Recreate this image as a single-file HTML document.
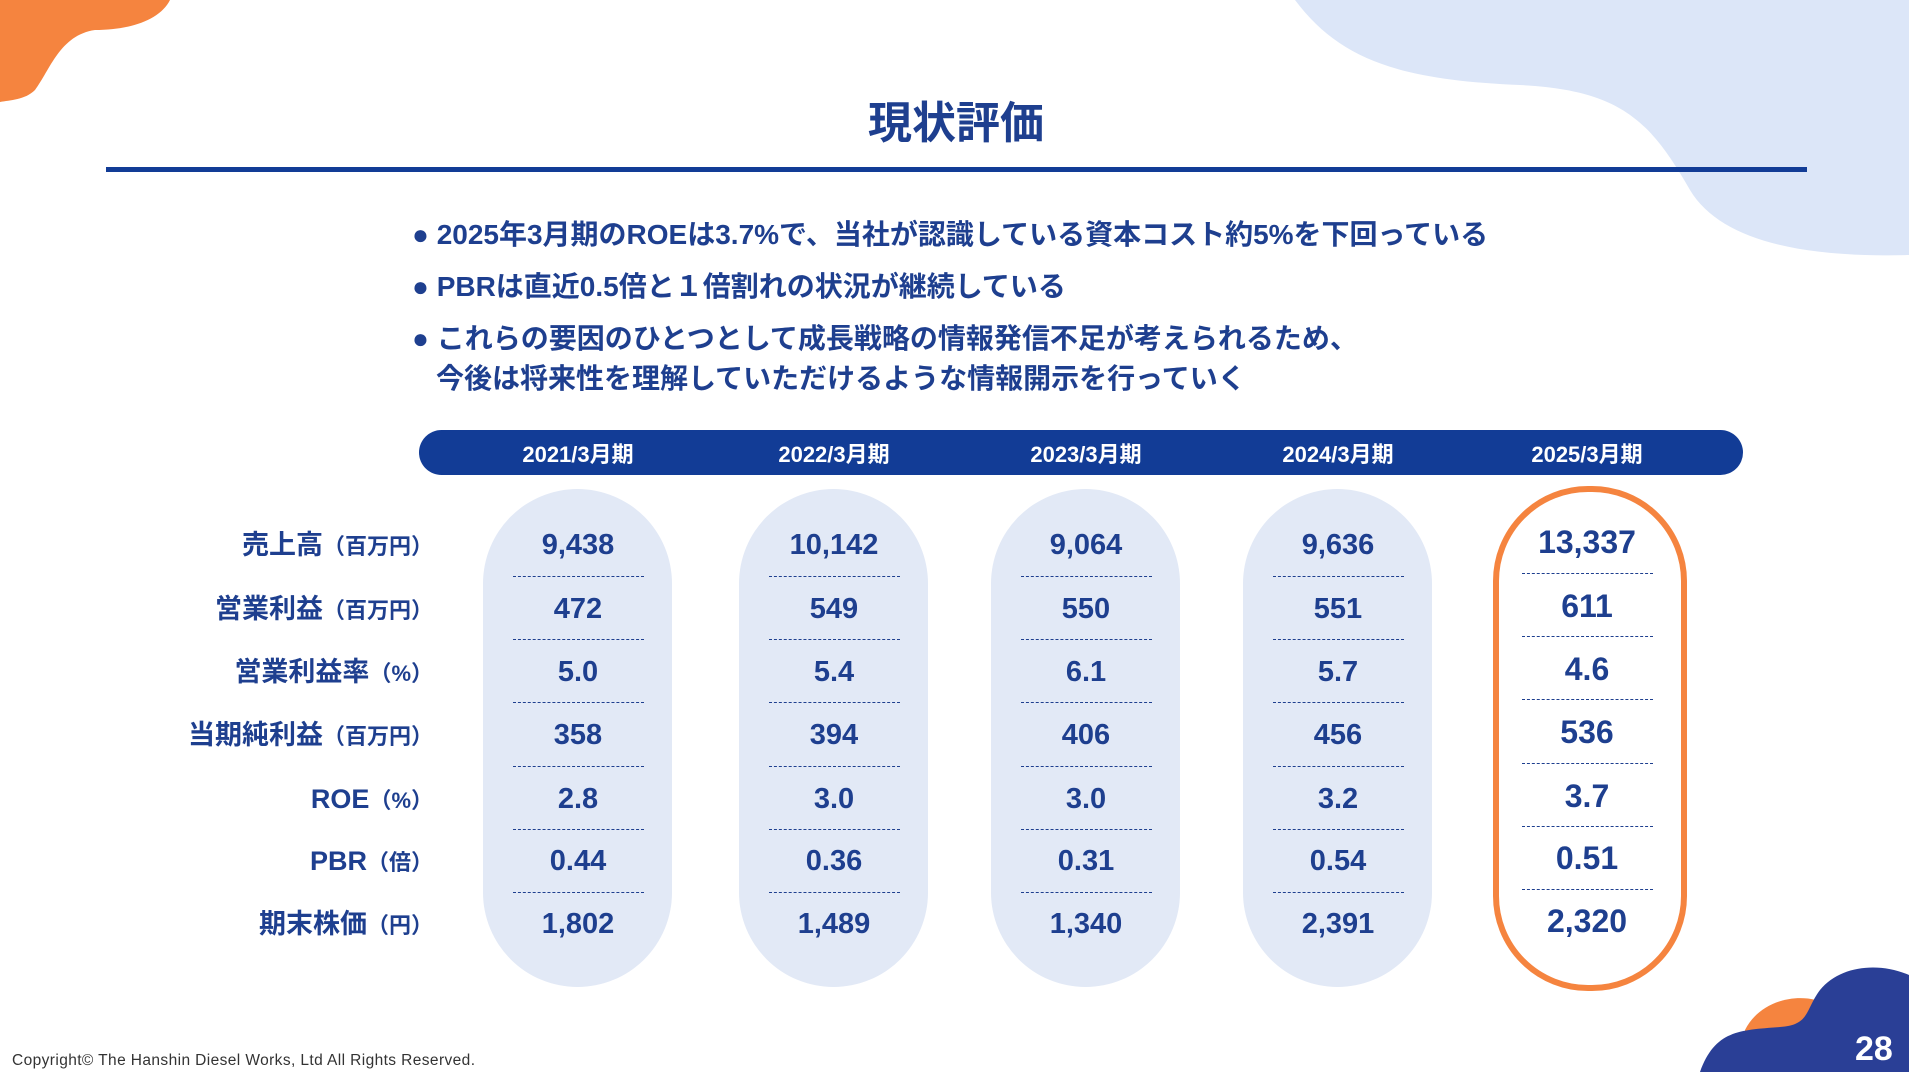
<!DOCTYPE html>
<html><head><meta charset="utf-8"><style>
body{margin:0;width:1909px;height:1072px;position:relative;overflow:hidden;background:#fff;font-family:"Liberation Sans","Noto Sans CJK JP",sans-serif;color:#1e3f8f}
.a{position:absolute}
.b{font-weight:bold}
</style></head><body>
<svg class="a" style="left:0;top:0" width="1909" height="1072">
<path d="M0,0 L170,0 C160,20 130,30 95,30 C60,35 50,70 35,90 C25,100 10,100 0,102 Z" fill="#f5843f"/>
<path d="M1295,0 L1909,0 L1909,255 C1800,258 1720,240 1690,190 C1650,120 1620,90 1520,85 C1400,80 1340,60 1295,0 Z" fill="#dce6f8"/>
<path d="M1745,1030 C1760,1000 1800,990 1830,1005 L1800,1072 L1745,1072 Z" fill="#f5843f"/>
<path d="M1700,1072 C1715,1030 1740,1030 1780,1027 C1810,1025 1805,1010 1820,990 C1840,965 1880,962 1909,975 L1909,1072 Z" fill="#2a3f96"/>
</svg>
<div class="a b" style="left:1855px;top:1030px;color:#fff;font-size:34px">28</div>
<div class="a b" style="left:0;width:1912px;text-align:center;top:87px;font-size:44px">現状評価</div>
<div class="a" style="left:106px;top:167px;width:1701px;height:5px;background:#123c96"></div>
<div class="a b" style="left:412px;top:209px;font-size:28px;line-height:52px">
<div>● 2025年3月期のROEは3.7%で、当社が認識している資本コスト約5%を下回っている</div>
<div>● PBRは直近0.5倍と１倍割れの状況が継続している</div>
<div style="line-height:40px;margin-top:6px">● これらの要因のひとつとして成長戦略の情報発信不足が考えられるため、<br><span style="padding-left:24px">今後は将来性を理解していただけるような情報開示を行っていく</span></div>
</div>
<div class="a" style="left:419px;top:430px;width:1324px;height:45px;background:#123c96;border-radius:23px"></div>
<div id="c"></div>
<div class="a" style="left:12px;top:1052px;font-size:15.5px;color:#333;letter-spacing:0.4px">Copyright© The Hanshin Diesel Works, Ltd All Rights Reserved.</div>
<script>
var cx=[578,834,1086,1338,1587],hd=["2021/3月期","2022/3月期","2023/3月期","2024/3月期","2025/3月期"];
var ry=[545,609,672,735,799,861,924];
var lab=[["売上高","（百万円）"],["営業利益","（百万円）"],["営業利益率","（%）"],["当期純利益","（百万円）"],["ROE","（%）"],["PBR","（倍）"],["期末株価","（円）"]];
var v=[["9,438","472","5.0","358","2.8","0.44","1,802"],["10,142","549","5.4","394","3.0","0.36","1,489"],["9,064","550","6.1","406","3.0","0.31","1,340"],["9,636","551","5.7","456","3.2","0.54","2,391"],["13,337","611","4.6","536","3.7","0.51","2,320"]];
var h="";
for(var i=0;i<5;i++){
 h+='<div class="a b" style="left:'+(cx[i]-120)+'px;width:240px;text-align:center;top:437px;font-size:22px;color:#fff">'+hd[i]+'</div>';
 if(i<4)h+='<div class="a" style="left:'+(cx[i]-95)+'px;top:489px;width:189px;height:498px;border-radius:95px;background:#e2e9f6"></div>';
 else h+='<div class="a" style="left:1493px;top:486px;width:182px;height:493px;border-radius:95px;border:6px solid #f5843f"></div>';
 for(var r=0;r<7;r++){
  var y=ry[r]-(i==4?3:0);
  h+='<div class="a b" style="left:'+(cx[i]-100)+'px;width:200px;text-align:center;top:'+(y-19)+'px;font-size:'+(i==4?32:29)+'px;line-height:38px">'+v[i][r]+'</div>';
  if(r<6)h+='<div class="a" style="left:'+(cx[i]-65)+'px;width:131px;top:'+(576+r*63.2-(i==4?3:0))+'px;border-top:1px dashed #1e3f8f"></div>';
 }
}
for(var r=0;r<7;r++)h+='<div class="a b" style="right:1476px;top:'+(ry[r]-18)+'px;font-size:27px;line-height:36px;white-space:nowrap">'+lab[r][0]+'<span style="font-size:22px">'+lab[r][1]+'</span></div>';
document.getElementById("c").innerHTML=h;
</script>
</body></html>
